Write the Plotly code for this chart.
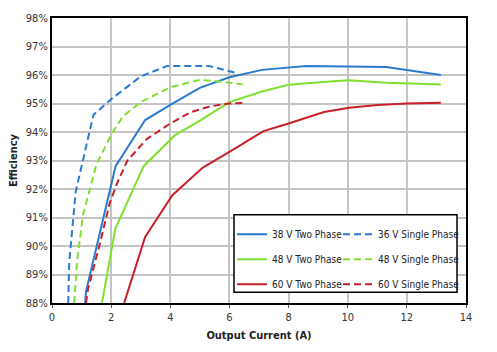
import plotly.graph_objects as go

# ---- data ----
v38_two_x = [1.12, 1.15, 2.15, 3.15, 4.0, 5.0, 6.0, 7.1, 8.6, 10.0, 11.3, 13.15]
v38_two_y = [88.0, 88.4, 92.8, 94.42, 94.95, 95.55, 95.92, 96.18, 96.32, 96.31, 96.28, 96.0]

v36_single_x = [0.55, 0.58, 0.8, 1.05, 1.4, 2.0, 3.0, 3.9, 5.3, 6.3]
v36_single_y = [88.0, 89.4, 91.9, 93.0, 94.6, 95.15, 95.95, 96.32, 96.32, 96.05]

v48_two_x = [1.69, 2.03, 2.14, 3.1, 4.15, 5.0, 6.0, 7.1, 8.0, 9.4, 10.05, 11.3, 13.15]
v48_two_y = [88.0, 90.0, 90.6, 92.8, 93.88, 94.4, 95.05, 95.42, 95.66, 95.77, 95.82, 95.73, 95.67]

v48_single_x = [0.75, 0.85, 1.05, 1.5, 2.0, 2.4, 3.0, 4.0, 5.0, 5.6, 6.45]
v48_single_y = [88.0, 89.5, 91.1, 92.85, 93.9, 94.55, 95.05, 95.57, 95.83, 95.78, 95.67]

v60_two_x = [2.44, 3.15, 4.07, 5.1, 6.0, 7.15, 8.0, 9.2, 10.05, 11.0, 12.0, 13.15]
v60_two_y = [88.0, 90.32, 91.78, 92.75, 93.3, 94.03, 94.3, 94.7, 94.85, 94.95, 95.0, 95.03]

v60_single_x = [1.15, 1.22, 1.6, 1.95, 2.2, 2.55, 3.2, 4.0, 4.7, 5.35, 6.0, 6.55]
v60_single_y = [88.0, 88.5, 90.0, 91.5, 92.2, 93.0, 93.75, 94.3, 94.7, 94.9, 95.0, 95.02]

x_ticks = [0, 2, 4, 6, 8, 10, 12, 14]
y_ticks = [88, 89, 90, 91, 92, 93, 94, 95, 96, 97, 98]
y_tick_labels = [f"{v}%" for v in y_ticks]

BLUE = "#2a7bd0"
GREEN = "#80e030"
RED = "#c8202a"
FONT = "DejaVu Sans Condensed, sans-serif"

fig = go.Figure()

series = [
    ("38 V Two Phase", v38_two_x, v38_two_y, BLUE, "solid", "legend", "a"),
    ("48 V Two Phase", v48_two_x, v48_two_y, GREEN, "solid", "legend", "b"),
    ("60 V Two Phase", v60_two_x, v60_two_y, RED, "solid", "legend", "c"),
    ("36 V Single Phase", v36_single_x, v36_single_y, BLUE, "7px,4px", "legend2", "d"),
    ("48 V Single Phase", v48_single_x, v48_single_y, GREEN, "7px,4px", "legend2", "e"),
    ("60 V Single Phase", v60_single_x, v60_single_y, RED, "7px,4px", "legend2", "f"),
]
for name, xs, ys, col, dash, leg, grp in series:
    fig.add_trace(go.Scatter(x=xs, y=ys, mode="lines", name=name,
                             line=dict(color=col, width=2, dash=dash),
                             legend=leg, legendgroup=grp))

# legend box
fig.add_shape(type="rect", xref="paper", yref="paper",
              x0=(234 - 52) / 414, x1=(457 - 52) / 414,
              y0=(310 - 299) / 294, y1=(310 - 219) / 294,
              line=dict(color="black", width=1.5), fillcolor="white", layer="above")

leg_common = dict(bgcolor="rgba(0,0,0,0)", borderwidth=0, tracegroupgap=6,
                  traceorder="grouped", font=dict(family=FONT, size=10, color="#222"),
                  xanchor="left", yanchor="top", orientation="v")
fig.update_layout(
    legend=dict(x=(232 - 52) / 414, y=(310 - 224) / 294, **leg_common),
    legend2=dict(x=(338 - 52) / 414, y=(310 - 224) / 294, **leg_common),
)

fig.update_layout(
    width=497, height=352,
    margin=dict(l=52, r=31, t=16, b=42),
    paper_bgcolor="white", plot_bgcolor="white",
    font=dict(family=FONT, size=11, color="#333"),
    showlegend=True,
    xaxis=dict(range=[0, 14], tickvals=x_ticks, showgrid=True, gridcolor="#c4c4c4",
               gridwidth=1.5, showline=True, linecolor="black", linewidth=2, mirror=True,
               ticks="outside", ticklen=3, tickcolor="#555", zeroline=False,
               tickfont=dict(size=11),
               title=dict(text="<b>Output Current (A)</b>", standoff=8,
                          font=dict(family=FONT, size=11, color="#222"))),
    yaxis=dict(range=[88, 98], tickvals=y_ticks, ticktext=y_tick_labels, showgrid=True,
               gridcolor="#c4c4c4", gridwidth=1.5, showline=True, linecolor="black",
               linewidth=2, mirror=True, ticks="", zeroline=False,
               tickfont=dict(size=11),
               title=dict(text="<b>Efficiency</b>", standoff=6,
                          font=dict(family=FONT, size=11, color="#222"))),
)

fig.write_html("out.html")
